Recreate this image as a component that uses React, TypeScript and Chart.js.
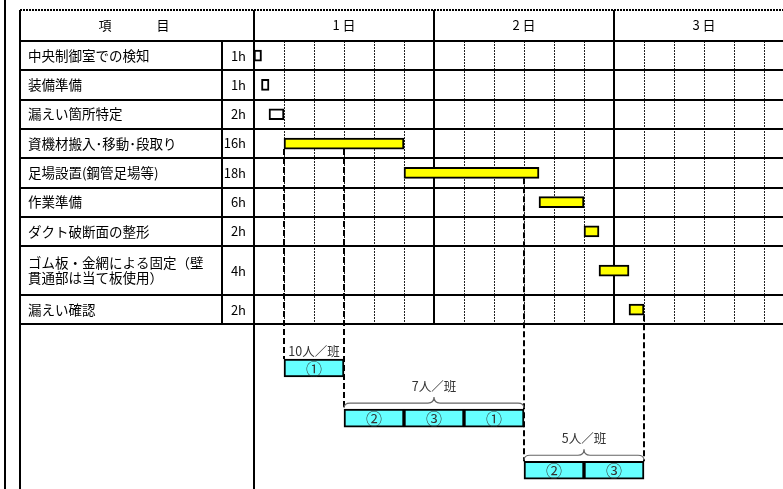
import React, { useEffect, useRef } from 'react';
import { Chart, registerables } from 'chart.js';

Chart.register(...registerables);

// ---- data ----
const HEADER_ITEM_CHARS = ['項', '目'];
const DAY_LABELS = ['1 日', '2 日', '3 日'];
const TASK_NAMES: string[][] = [
  ['中央制御室での検知'],
  ['装備準備'],
  ['漏えい箇所特定'],
  ['資機材搬入･移動･段取り'],
  ['足場設置(鋼管足場等)'],
  ['作業準備'],
  ['ダクト破断面の整形'],
  ['ゴム板・金網による固定（壁', '貫通部は当て板使用）'],
  ['漏えい確認'],
];
const TASK_START = [0, 1, 2, 4, 20, 38, 44, 46, 50];
const TASK_HOURS = [1, 1, 2, 16, 18, 6, 2, 4, 2];
const TASK_HIGHLIGHT = [false, false, false, true, true, true, true, true, true];
const ROW_SPAN = [1, 1, 1, 1, 1, 1, 1, 1.67, 1];

const CREW_START = [4, 12, 20, 28, 36, 44];
const CREW_END = [12, 20, 28, 36, 44, 52];
const CREW_TEAM = ['①', '②', '③', '①', '②', '③'];
const CREW_GROUP = [0, 1, 1, 1, 2, 2];
const GROUP_LABELS = ['10人／班', '7人／班', '5人／班'];
const GROUP_Y = [11.16, 12.87, 14.65];

const DIVIDER_HOURS = [4, 12, 36, 52];
const DIVIDER_FROM_TASK = [3, 3, 4, 8];
const DIVIDER_TO_GROUP = [0, 1, 2, 2];

const TOTAL_HOURS = 72;
const HOURS_PER_DAY = 24;
const GRID_STEP = 4;
const Y_MAX = 15.29;

const FONT = '"Noto Sans CJK JP", "Noto Sans", sans-serif';
const TASK_BAR = 11;
const CREW_BAR = 18;

function rowBounds(): number[] {
  const b = [0];
  ROW_SPAN.forEach((s) => b.push(b[b.length - 1] + s));
  return b;
}
function taskCenters(): number[] {
  const b = rowBounds();
  return ROW_SPAN.map((s, i) => b[i] + s / 2);
}

const tablePlugin = {
  id: 'ganttTable',
  beforeDraw(chart: any) {
    const { ctx, width, height } = chart;
    ctx.save();
    ctx.fillStyle = '#ffffff';
    ctx.fillRect(0, 0, width, height);
    ctx.restore();
  },
  beforeDatasetsDraw(chart: any) {
    const { ctx, chartArea, scales } = chart;
    const xs = scales.x;
    const ys = scales.y;
    const H = chart.height;
    const top = 10;
    const tableLeft = 20;
    const nameSep = 222;
    const right = chartArea.right;
    const xPix = (h: number) => Math.round(xs.getPixelForValue(h));
    const yPix = (v: number) => Math.round(ys.getPixelForValue(v));
    const bounds = rowBounds();
    const centers = taskCenters();
    const headBottom = yPix(0);
    const rowsBottom = yPix(bounds[bounds.length - 1]);
    const line = (x1: number, y1: number, x2: number, y2: number) => {
      ctx.beginPath();
      ctx.moveTo(x1, y1);
      ctx.lineTo(x2, y2);
      ctx.stroke();
    };
    ctx.save();
    // dotted hour grid
    ctx.strokeStyle = '#222';
    ctx.lineWidth = 1;
    ctx.setLineDash([2, 1]);
    for (let h = GRID_STEP; h < TOTAL_HOURS; h += GRID_STEP) {
      if (h % HOURS_PER_DAY === 0) continue;
      const px = xPix(h) + 0.5;
      line(px, headBottom, px, rowsBottom);
    }
    // solid table lines
    ctx.setLineDash([]);
    ctx.strokeStyle = '#000';
    ctx.lineWidth = 2;
    bounds.forEach((b) => line(tableLeft, yPix(b), right, yPix(b)));
    line(tableLeft, top, tableLeft, H);
    line(nameSep, headBottom, nameSep, rowsBottom);
    line(xPix(0), top, xPix(0), H);
    for (let d = 1; d < TOTAL_HOURS / HOURS_PER_DAY; d++) {
      line(xPix(d * HOURS_PER_DAY), top, xPix(d * HOURS_PER_DAY), rowsBottom);
    }
    // page border
    line(5, 0, 5, H);
    // header top dashed
    ctx.setLineDash([2, 1]);
    line(tableLeft, top, right, top);
    // dividers
    ctx.setLineDash([6, 3]);
    DIVIDER_HOURS.forEach((h, i) => {
      const px = xPix(h);
      const y1 = ys.getPixelForValue(centers[DIVIDER_FROM_TASK[i]]) + TASK_BAR / 2;
      const y2 = ys.getPixelForValue(GROUP_Y[DIVIDER_TO_GROUP[i]]) - CREW_BAR / 2;
      line(px, y1, px, y2);
    });
    ctx.restore();
  },
  afterDatasetsDraw(chart: any) {
    const { ctx, scales } = chart;
    const xs = scales.x;
    const ys = scales.y;
    const centers = taskCenters();
    ctx.save();
    ctx.fillStyle = '#000';
    ctx.textBaseline = 'middle';
    // header
    ctx.font = `13px ${FONT}`;
    ctx.textAlign = 'center';
    ctx.fillText(HEADER_ITEM_CHARS[0], 105, 25);
    ctx.fillText(HEADER_ITEM_CHARS[1], 163, 25);
    DAY_LABELS.forEach((d, i) => {
      ctx.fillText(d, xs.getPixelForValue(i * HOURS_PER_DAY + HOURS_PER_DAY / 2), 25);
    });
    // task names and hours
    TASK_NAMES.forEach((lines, i) => {
      const cy = ys.getPixelForValue(centers[i]);
      ctx.textAlign = 'left';
      ctx.font = `13.5px ${FONT}`;
      lines.forEach((t, k) => {
        const off = (k - (lines.length - 1) / 2) * 15;
        ctx.fillText(t, 28, cy + off);
      });
      ctx.textAlign = 'right';
      ctx.font = `13px ${FONT}`;
      ctx.fillText(`${TASK_HOURS[i]}h`, 246, cy);
    });
    // crew team labels
    ctx.textAlign = 'center';
    ctx.fillStyle = '#333';
    ctx.font = `16px ${FONT}`;
    CREW_TEAM.forEach((t, i) => {
      const cx = xs.getPixelForValue((CREW_START[i] + CREW_END[i]) / 2);
      const cy = ys.getPixelForValue(GROUP_Y[CREW_GROUP[i]]);
      ctx.fillText(t, cx, cy + 1);
    });
    // group labels and braces
    ctx.font = `12.5px ${FONT}`;
    ctx.strokeStyle = '#666';
    ctx.lineWidth = 1.2;
    GROUP_LABELS.forEach((g, gi) => {
      let s = Infinity;
      let e = -Infinity;
      CREW_GROUP.forEach((cg, i) => {
        if (cg === gi) {
          s = Math.min(s, CREW_START[i]);
          e = Math.max(e, CREW_END[i]);
        }
      });
      const xL = xs.getPixelForValue(s);
      const xR = xs.getPixelForValue(e);
      const xc = (xL + xR) / 2;
      const blockTop = ys.getPixelForValue(GROUP_Y[gi]) - CREW_BAR / 2;
      const members = CREW_GROUP.filter((c) => c === gi).length;
      if (members > 1) {
        const yl = blockTop - 6;
        ctx.beginPath();
        ctx.moveTo(xL, blockTop - 1);
        ctx.quadraticCurveTo(xL, yl, xL + 6, yl);
        ctx.lineTo(xc - 6, yl);
        ctx.quadraticCurveTo(xc, yl, xc, blockTop - 12);
        ctx.quadraticCurveTo(xc, yl, xc + 6, yl);
        ctx.lineTo(xR - 6, yl);
        ctx.quadraticCurveTo(xR, yl, xR, blockTop - 1);
        ctx.stroke();
        ctx.fillText(g, xc, blockTop - 23);
      } else {
        ctx.fillText(g, xc, blockTop - 8);
      }
    });
    ctx.restore();
  },
};

export default function App() {
  const ref = useRef<HTMLCanvasElement | null>(null);
  useEffect(() => {
    if (!ref.current) return;
    const centers = taskCenters();
    const chart = new Chart(ref.current, {
      type: 'bar',
      data: {
        datasets: [
          {
            label: 'tasks',
            data: TASK_START.map((s, i) => ({ x: [s, s + TASK_HOURS[i]], y: centers[i] })) as any,
            backgroundColor: TASK_HIGHLIGHT.map((h) => (h ? '#FFFF00' : '#FFFFFF')),
            borderColor: '#000',
            borderWidth: 2,
            borderSkipped: false,
            barThickness: TASK_BAR,
            grouped: false,
          } as any,
          {
            label: 'crews',
            data: CREW_START.map((s, i) => ({ x: [s, CREW_END[i]], y: GROUP_Y[CREW_GROUP[i]] })) as any,
            backgroundColor: '#66FFFF',
            borderColor: '#000',
            borderWidth: 2,
            borderSkipped: false,
            barThickness: CREW_BAR,
            grouped: false,
          } as any,
        ],
      },
      options: {
        indexAxis: 'y',
        animation: false,
        responsive: false,
        maintainAspectRatio: false,
        devicePixelRatio: 1,
        layout: { padding: { left: 254, top: 41, right: 0, bottom: 0 } },
        scales: {
          x: { type: 'linear', min: 0, max: TOTAL_HOURS, display: false, offset: false },
          y: { type: 'linear', min: 0, max: Y_MAX, reverse: true, display: false, offset: false },
        },
        plugins: { legend: { display: false }, tooltip: { enabled: false } },
      } as any,
      plugins: [tablePlugin],
    });
    return () => chart.destroy();
  }, []);
  return (
    <div
      style={{
        position: 'fixed',
        left: 0,
        top: 0,
        width: 783,
        height: 489,
        overflow: 'hidden',
        background: '#fff',
      }}
    >
      <canvas ref={ref} width={794} height={489} style={{ width: 794, height: 489, display: 'block' }} />
    </div>
  );
}
